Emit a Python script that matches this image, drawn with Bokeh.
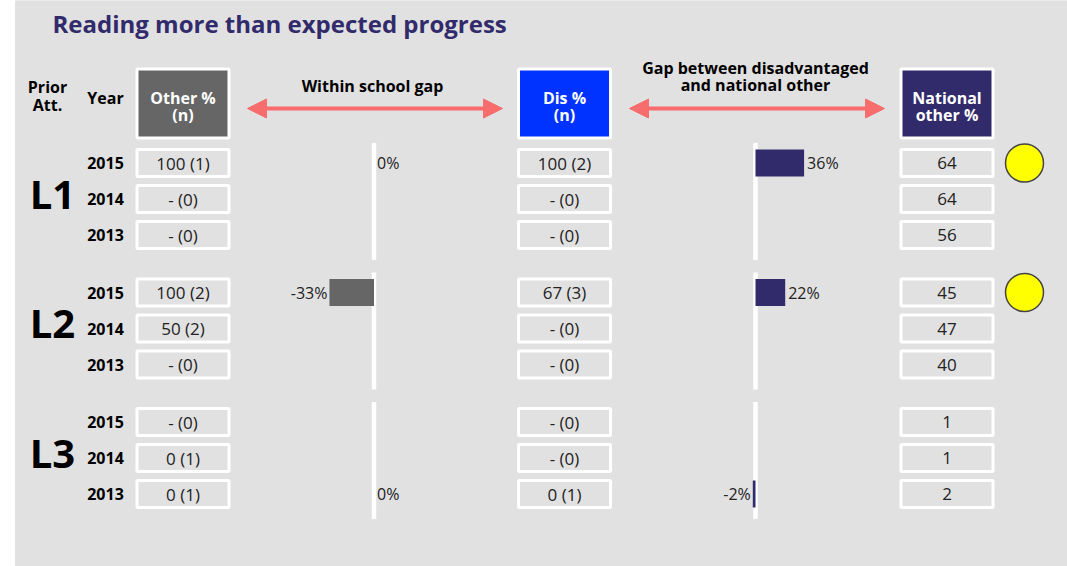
from bokeh.plotting import figure
from bokeh.models import Range1d, Arrow, NormalHead
from bokeh.core.properties import value
from bokeh.embed import file_html
from bokeh.resources import INLINE

# ---------------- data ----------------
title = "Reading more than expected progress"
groups = ["L1", "L2", "L3"]
years = ["2015", "2014", "2013"]
other_pct = [100, None, None, 100, 50, None, None, 0, 0]
other_n = [1, 0, 0, 2, 2, 0, 0, 1, 1]
dis_pct = [100, None, None, 67, None, None, None, None, 0]
dis_n = [2, 0, 0, 3, 0, 0, 0, 0, 1]
national_other = [64, 64, 56, 45, 47, 40, 1, 1, 2]
within_gap = [0, None, None, -33, None, None, None, None, 0]
dis_gap = [36, None, None, 22, None, None, None, None, -2]
flag = [True, False, False, True, False, False, False, False, False]

# ---------------- layout ----------------
W, H = 1067, 566
FONT = value("Open Sans")
PURPLE = "#312a6b"
ARROW = "#f76c6c"
TXT = "#222222"
PX_PER_PCT = 1.35
WITHIN_ZERO = 373.5
DIS_ZERO = 755.0
X_OTHER, X_DIS, X_NAT = 182.5, 564.0, 946.5
group_top = [162.5, 292, 421.5]
row_step = 36

p = figure(width=W, height=H, x_range=Range1d(0, W), y_range=Range1d(H, 0),
           output_backend="svg", toolbar_location=None, min_border=0)
p.axis.visible = False
p.grid.visible = False
p.outline_line_color = None
p.background_fill_color = "white"
p.border_fill_color = "white"
p.extra_x_ranges = {
    "within": Range1d((0 - WITHIN_ZERO) / PX_PER_PCT, (W - WITHIN_ZERO) / PX_PER_PCT),
    "disgap": Range1d((0 - DIS_ZERO) / PX_PER_PCT, (W - DIS_ZERO) / PX_PER_PCT),
}

p.quad(left=[15], right=[W], top=[0], bottom=[H], color="#e1e1e1")


def txt(x, y, t, size, bold=False, color=TXT, align="center", **kw):
    p.text(x=x, y=y, text=t, text_font=FONT, text_font_size=size,
           text_font_style="bold" if bold else "normal", text_color=color,
           text_align=align, text_baseline="middle", **kw)


# title
txt([52], [23], [title], "24px", bold=True, color=PURPLE, align="left")

# column headers
txt([47, 47], [86, 104], ["Prior", "Att."], "16px", bold=True, color="black")
txt([105], [97], ["Year"], "16px", bold=True, color="black")

hdr_x = [X_OTHER, X_DIS, X_NAT]
hdr_fill = ["#666666", "#0033ff", PURPLE]
p.rect(x=hdr_x, y=[103] * 3, width=92, height=69, fill_color=hdr_fill,
       line_color="white", line_width=3)
txt([X_OTHER, X_OTHER], [97, 114], ["Other %", "(n)"], "16px", bold=True, color="white")
txt([X_DIS, X_DIS], [97, 114], ["Dis %", "(n)"], "16px", bold=True, color="white")
txt([X_NAT, X_NAT], [97, 114], ["National", "other %"], "16px", bold=True, color="white")

txt([372], [85], ["Within school gap"], "16px", bold=True, color="black")
txt([755, 755], [67, 84], ["Gap between disadvantaged", "and national other"], "16px",
    bold=True, color="black")

for xs, xe in [(247, 502), (629, 884)]:
    p.add_layout(Arrow(start=NormalHead(size=19, fill_color=ARROW, line_color=ARROW),
                       end=NormalHead(size=19, fill_color=ARROW, line_color=ARROW),
                       x_start=xs, y_start=108, x_end=xe, y_end=108,
                       line_color=ARROW, line_width=4))

# ---------------- rows ----------------
row_y = []
row_year = []
for g in range(len(groups)):
    for i, yr in enumerate(years):
        row_y.append(group_top[g] + row_step * i)
        row_year.append(yr)


def lab(v, n):
    return ("-" if v is None else str(v)) + " (" + str(n) + ")"


other_lbl = [lab(v, n) for v, n in zip(other_pct, other_n)]
dis_lbl = [lab(v, n) for v, n in zip(dis_pct, dis_n)]
nat_lbl = [str(v) for v in national_other]

# group labels
txt([52] * 3, [group_top[g] + row_step - 6 for g in range(3)], groups, "40px", bold=True,
    color="black")
txt([105] * len(row_y), row_y, row_year, "16px", bold=True, color="black")

for cx, lbls in [(X_OTHER, other_lbl), (X_DIS, dis_lbl), (X_NAT, nat_lbl)]:
    p.rect(x=[cx] * len(row_y), y=row_y, width=92, height=27, fill_color=None,
           line_color="white", line_width=3)
    txt([cx] * len(row_y), row_y, lbls, "17px")

# zero lines of gap panels
seg_y0 = [group_top[g] - 20 for g in range(3)]
seg_y1 = [group_top[g] + 2 * row_step + 25 for g in range(3)]
for rng in ["within", "disgap"]:
    p.segment(x0=[0] * 3, x1=[0] * 3, y0=seg_y0, y1=seg_y1, line_color="white",
              line_width=4.5, x_range_name=rng)

for rng, vals, col in [("within", within_gap, "#666666"), ("disgap", dis_gap, PURPLE)]:
    ys = [y for y, v in zip(row_y, vals) if v is not None]
    vs = [v for v in vals if v is not None]
    p.hbar(y=ys, left=[0] * len(vs), right=vs, height=27, fill_color=col, line_color=None,
           x_range_name=rng)
    pos = [(y, v) for y, v in zip(ys, vs) if v >= 0]
    neg = [(y, v) for y, v in zip(ys, vs) if v < 0]
    if pos:
        txt([v for _, v in pos], [y for y, _ in pos], [f"{v}%" for _, v in pos], "16px",
            align="left", x_offset=3, x_range_name=rng)
    if neg:
        txt([v for _, v in neg], [y for y, _ in neg], [f"{v}%" for _, v in neg], "16px",
            align="right", x_offset=-2, x_range_name=rng)

# flags
fy = [y for y, f in zip(row_y, flag) if f]
p.scatter(x=[1024] * len(fy), y=fy, size=38, fill_color="#ffff00", line_color="#444444",
          line_width=1.5)

open("out.html", "w").write(file_html(p, INLINE))
